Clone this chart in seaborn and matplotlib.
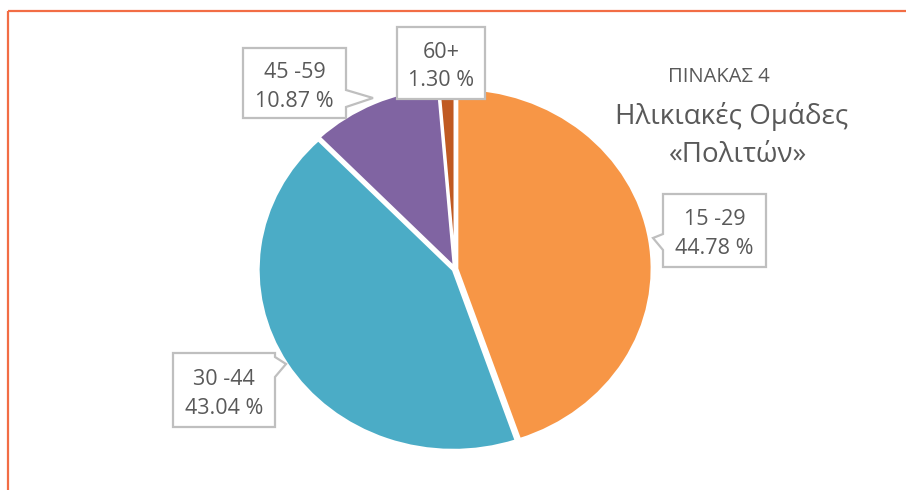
import seaborn as sns
import matplotlib.pyplot as plt
from matplotlib.patches import Polygon

# data
groups = ['15 -29', '30 -44', '45 -59', '60+']
shares = [44.78, 43.04, 10.87, 1.30]
colors = ['#F79646', '#4BACC6', '#8064A2', '#C05A22']
title_small = 'ΠΙΝΑΚΑΣ 4'
title_big = ['Ηλικιακές Ομάδες', '«Πολιτών»']

sns.set_theme(style='white')
plt.rcParams['font.family'] = ['Open Sans', 'DejaVu Sans']

W, H = 906, 490
fig = plt.figure(figsize=(W / 100, H / 100), dpi=100)

# pie (slightly wider than tall, like the source image)
cx, cy, rx, ry = 455, 269, 198, 183
ax = fig.add_axes([(cx - rx) / W, (H - cy - ry) / H, 2 * rx / W, 2 * ry / H])
wedges, _ = ax.pie(shares, colors=colors, startangle=90, counterclock=False,
                   radius=0.985, explode=[0.01] * len(shares),
                   wedgeprops=dict(edgecolor='white', linewidth=2))
ax.set_aspect('auto')
ax.set_xlim(-1, 1)
ax.set_ylim(-1, 1)
ax.axis('off')

# overlay in pixel coordinates for callouts, title and frame
ov = fig.add_axes([0, 0, 1, 1])
ov.set_xlim(0, W)
ov.set_ylim(H, 0)
ov.axis('off')

frame = '#F26D45'
ov.plot([8, 8], [11, H], color=frame, lw=1.6, solid_capstyle='butt')
ov.plot([8, W], [11, 11], color=frame, lw=1.6, solid_capstyle='butt')

# callout boxes: (left, top, right, bottom) and pointer outline points
boxes = {
    '15 -29': (663, 194, 766, 267),
    '30 -44': (173, 353, 275, 427),
    '45 -59': (243, 48, 346, 118),
    '60+': (397, 27, 485, 99),
}
outlines = {
    '15 -29': [(663, 194), (766, 194), (766, 267), (663, 267), (663, 250), (653, 238), (663, 234)],
    '30 -44': [(173, 353), (275, 353), (275, 357), (286, 364), (275, 377), (275, 427), (173, 427)],
    '45 -59': [(243, 48), (346, 48), (346, 90), (373, 98), (346, 107), (346, 118), (243, 118)],
    '60+': [(397, 27), (485, 27), (485, 99), (397, 99)],
}
txt = '#595959'
for g, v in zip(groups, shares):
    ov.add_patch(Polygon(outlines[g], closed=True, facecolor='white',
                         edgecolor='#BFBFBF', lw=1.6, zorder=3))
    l, t, r, b = boxes[g]
    xc, yc = (l + r) / 2, (t + b) / 2
    ov.text(xc, yc - 11, g, ha='center', va='center', fontsize=15.5, color=txt, zorder=4)
    ov.text(xc, yc + 18, f'{v:.2f} %', ha='center', va='center', fontsize=15.5, color=txt, zorder=4)

ov.text(719, 77, title_small, ha='center', va='center', fontsize=14.5, color=txt)
ov.text(732, 116, title_big[0], ha='center', va='center', fontsize=20, color=txt)
ov.text(738, 155, title_big[1], ha='center', va='center', fontsize=20, color=txt)

fig.savefig('out.png', dpi=100)
